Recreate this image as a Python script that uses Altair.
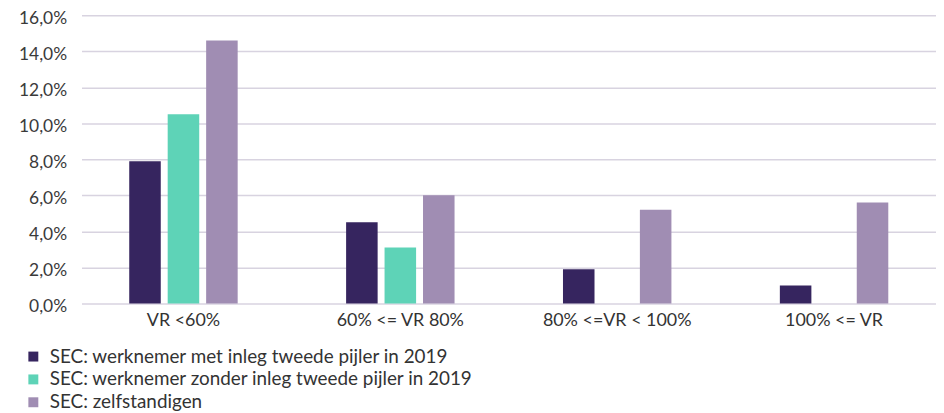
import altair as alt
import pandas as pd

categories = ["VR <60%", "60% <= VR 80%", "80% <=VR < 100%", "100% <= VR"]
series = [
    "SEC: werknemer met inleg tweede pijler in 2019",
    "SEC: werknemer zonder inleg tweede pijler in 2019",
    "SEC: zelfstandigen",
]
met_inleg = [7.9, 4.5, 1.9, 1.0]
zonder_inleg = [10.5, 3.1, 0.0, 0.0]
zelfstandigen = [14.6, 6.0, 5.2, 5.6]
colors = ["#36255f", "#5ed3b7", "#a08db3"]

rows = []
for vals, s in zip([met_inleg, zonder_inleg, zelfstandigen], series):
    for c, v in zip(categories, vals):
        rows.append({"cat": c, "series": s, "value": v})
df = pd.DataFrame(rows)

font = "Lato"

chart = alt.Chart(df).mark_bar().encode(
    x=alt.X("cat:N", sort=categories, title=None,
            scale=alt.Scale(paddingInner=0.5, paddingOuter=0.22),
            axis=alt.Axis(labelAngle=0, domain=False, ticks=False, labelPadding=8,
                          labelFontSize=18, labelColor="#333333", labelFont=font)),
    xOffset=alt.XOffset("series:N", sort=series, scale=alt.Scale(paddingInner=0.18)),
    y=alt.Y("value:Q", title=None,
            scale=alt.Scale(domain=[0, 16]),
            axis=alt.Axis(values=[0, 2, 4, 6, 8, 10, 12, 14, 16], domain=False, ticks=False,
                          labelPadding=15, labelFontSize=17.5, labelColor="#3a3a3a", labelFont=font,
                          labelOffset=3,
                          gridColor="#d8d3e0", gridWidth=1.5,
                          labelExpr="replace(format(datum.value, '.1f'), '.', ',') + '%'")),
    color=alt.Color("series:N", sort=series, title=None,
                    scale=alt.Scale(domain=series, range=colors),
                    legend=alt.Legend(orient="none", legendX=-58, legendY=334, direction="vertical",
                                      symbolType="square", symbolSize=100, symbolStrokeWidth=0,
                                      labelFontSize=19, labelFont=font, labelColor="#333333",
                                      labelLimit=0, rowPadding=3, labelOffset=7)),
).properties(
    width=860, height=290,
    padding={"left": 10, "top": 0, "right": 0, "bottom": 0},
).configure_view(stroke=None)

chart.save("out.html", embed_options={"renderer": "svg", "actions": False})
